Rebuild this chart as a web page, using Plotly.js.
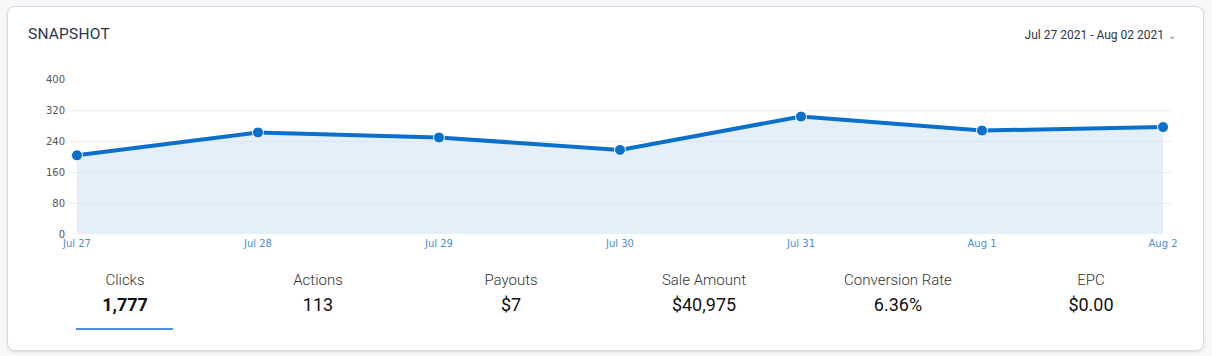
<!DOCTYPE html>
<html>
<head>
<meta charset="utf-8">
<script src="https://cdn.plot.ly/plotly-3.0.1.min.js"></script>
<style>
  html, body { margin:0; padding:0; width:1212px; height:356px; background:#f7f8fa; overflow:hidden; font-family: Roboto, "Noto Sans", sans-serif; }
  #card { position:absolute; left:7px; top:6px; width:1195px; height:343px; background:#fff; border:1px solid #d9dbe0; border-radius:8px; box-shadow:0 1px 3px rgba(0,0,0,0.12); }
  #title { position:absolute; left:28px; top:25px; font-size:15.5px; font-weight:400; color:#2b3648; letter-spacing:0.2px; }
  #date { position:absolute; right:36px; top:28px; font-size:12px; color:#2b3648; }
  #date span { color:#888; font-size:10px; margin-left:4px; }
  #chart { position:absolute; left:0; top:0; width:1212px; height:356px; }
  .stat { position:absolute; top:270px; width:193px; text-align:center; color:#2b2b2b; }
  .stat .lab { font-size:15px; font-weight:300; color:#333; line-height:20px; }
  .stat .val { font-size:18px; font-weight:400; color:#111; line-height:24px; margin-top:3px; }
  .stat.active .val { font-weight:700; }
  #underline { position:absolute; left:76px; top:328px; width:97px; height:2px; background:#4a8fe0; }
</style>
</head>
<body>
<div id="card"></div>
<div id="title">SNAPSHOT</div>
<div id="date">Jul 27 2021 - Aug 02 2021<span>&#8964;</span></div>
<div id="chart"></div>
<div id="stats"></div>
<div id="underline"></div>
<script>
const dates = ["Jul 27", "Jul 28", "Jul 29", "Jul 30", "Jul 31", "Aug 1", "Aug 2"];
const clicks = [203, 262, 249, 217, 303, 267, 276];
const yTicks = [0, 80, 160, 240, 320, 400];
const statLabels = ["Clicks", "Actions", "Payouts", "Sale Amount", "Conversion Rate", "EPC"];
const statValues = ["1,777", "113", "$7", "$40,975", "6.36%", "$0.00"];

const statsDiv = document.getElementById('stats');
const centers = [125, 318, 511, 704, 898, 1091];
statLabels.forEach((l, i) => {
  const d = document.createElement('div');
  d.className = 'stat' + (i === 0 ? ' active' : '');
  d.style.left = (centers[i] - 96.5) + 'px';
  d.innerHTML = '<div class="lab">' + l + '</div><div class="val">' + statValues[i] + '</div>';
  statsDiv.appendChild(d);
});

const trace = {
  x: dates, y: clicks, type: 'scatter', mode: 'lines+markers',
  fill: 'tozeroy', fillcolor: 'rgba(205,226,245,0.55)',
  line: { color: '#0a70cc', width: 4 },
  marker: { color: '#0a70cc', size: 11, line: { color: '#ffffff', width: 1 } },
  hoverinfo: 'skip', cliponaxis: false
};
const layout = {
  width: 1212, height: 356,
  margin: { l: 69, r: 41, t: 79, b: 122 },
  paper_bgcolor: 'rgba(0,0,0,0)', plot_bgcolor: 'rgba(0,0,0,0)',
  showlegend: false,
  xaxis: {
    type: 'category', range: [-0.044, 6.044],
    showgrid: false, zeroline: false, showline: false, ticks: '',
    tickfont: { family: 'DejaVu Sans, Verdana, sans-serif', size: 10, color: '#4a8fd8' },
    ticklabelstandoff: 2
  },
  yaxis: {
    range: [0, 400], tickvals: yTicks, ticktext: yTicks.map(String),
    showgrid: true, gridcolor: '#eeeeee', gridwidth: 1, zeroline: false, showline: false, ticks: '',
    tickfont: { family: 'DejaVu Sans, Verdana, sans-serif', size: 10, color: '#555' },
    ticklabelstandoff: 3
  }
};
Plotly.newPlot('chart', [trace], layout, { displayModeBar: false, staticPlot: true });
</script>
</body>
</html>
